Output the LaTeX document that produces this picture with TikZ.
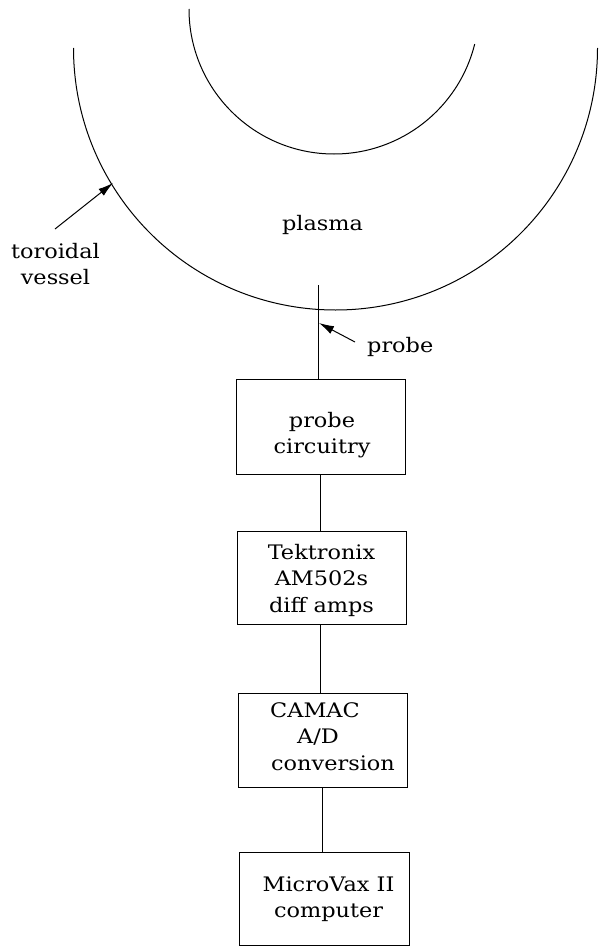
\documentclass[tikz,border=0pt]{standalone}
\usepackage{fontspec}
\setmainfont{DejaVu Serif}[FakeStretch=1.12]
\usetikzlibrary{arrows.meta}
\begin{document}
\begin{tikzpicture}[x=1pt,y=1pt,
  line/.style={line width=1pt,black},
  boxnode/.style={draw,line width=1pt,minimum width=169pt,minimum height=94pt,inner sep=0pt},
  lbl/.style={inner sep=0pt,font=\fontsize{20}{26.5}\selectfont},
  pointer/.style={line width=1pt,-{Latex[length=15pt,width=8.5pt]}}]
\fill[white] (0,0) rectangle (599,-947);
\path[use as bounding box] (0,0) rectangle (599,-947);

% toroidal vessel (outer) and inner wall
\draw[line] (73.5,-48) arc[start angle=180,end angle=360,radius=262];
\draw[line] (189,-9) arc[start angle=180,end angle=346,radius=145];

% labels around the vessel
\node[lbl,anchor=base] (plasma) at (322.5,-230) {plasma};
\node[lbl,anchor=north,align=center] (tv) at (55.5,-242) {\rule{0pt}{16pt}toroidal\\vessel};
\coordinate (tvtip) at (113,-183);
\coordinate (tvtail) at (55,-229);
\draw[pointer] (tvtail) -- (tvtip);

% boxes
\node[boxnode,minimum height=95pt] (pc) at (320.5,-426.5) {};
\node[boxnode,minimum height=93pt] (tek) at (321.5,-577.5) {};
\node[boxnode] (cam) at (322.5,-740) {};
\node[boxnode,minimum width=170pt,minimum height=93pt] (mv) at (324,-898.5) {};

\node[lbl,anchor=north,align=center] (pct) at (322,-411) {\rule{0pt}{16pt}probe\\circuitry};
\node[lbl,anchor=north,align=center] (tekt) at (321.5,-543) {\rule{0pt}{16pt}Tektronix\\AM502s\\diff amps};
\node[lbl,anchor=north west,align=left] (camt) at (270,-701) {\rule{0pt}{16pt}CAMAC\\\hspace*{27pt}A/D\\\hspace*{1pt}conversion};
\node[lbl,anchor=north,align=center] (mvt) at (328.5,-875) {\rule{0pt}{16pt}MicroVax II\\computer};

% probe
\coordinate (ptop) at (318,-285);
\draw[line] (ptop) -- (pc.north -| ptop);
\coordinate (ptip) at (319,-323);
\coordinate (ptail) at (355,-342);
\draw[pointer] (ptail) -- (ptip);
\node[lbl,anchor=base west] (probe) at (367,-352) {probe};

% signal chain
\coordinate (xa) at (320,0);
\coordinate (xb) at (320.5,0);
\coordinate (xc) at (322,0);
\draw[line] (pc.south -| xa) -- (tek.north -| xa);
\draw[line] (tek.south -| xb) -- (cam.north -| xb);
\draw[line] (cam.south -| xc) -- (mv.north -| xc);
\end{tikzpicture}
\end{document}
